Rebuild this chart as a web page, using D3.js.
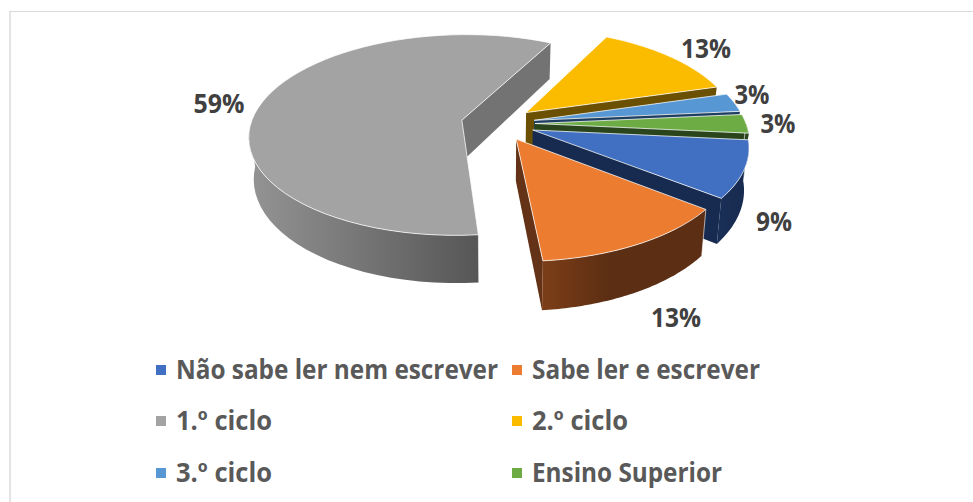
<!DOCTYPE html>
<html><head><meta charset="utf-8">
<script src="https://cdn.jsdelivr.net/npm/d3@7"></script>
<style>html,body{margin:0;padding:0;background:#fff}svg{display:block}</style></head>
<body><div id="c"></div>
<script>
const categories = ["Não sabe ler nem escrever","Sabe ler e escrever","1.º ciclo","2.º ciclo","3.º ciclo","Ensino Superior"];
const values = [9,13,59,13,3,3];
const percentLabels = ["9%","13%","59%","13%","3%","3%"];
const topColors = ["#4170c2","#eb7c30","#a3a3a3","#fbbc00","#5797d4","#6dab45"];
const wallColors = ["#172b50","#643216","#737373","#6a5000","#1e3f62","#2a451c"];
const rimStops = [["#1a2f56","#172a4e"],["#7c3e18","#5c2e13"],["#949494","#565656"],["#6a5000","#6a5000"],["#1e3f62","#1e3f62"],["#2a451c","#2a451c"]];
const labelBoxes = [[774,222,36],[676,318,50],[219,104,51],[706,49,50],[752,95,35],[778,124,35]];
const legendRows = [370,421,473], legendCols = [156,512];
const legendWidths = [322,228,96,96,96,190];

const W=973,H=502;
const svg=d3.select("#c").append("svg").attr("width",W).attr("height",H);
svg.append("rect").attr("x",9).attr("y",11).attr("width",2).attr("height",H-11).attr("fill","#e4e4e4");
svg.append("rect").attr("x",9).attr("y",11).attr("width",W-9).attr("height",1).attr("fill","#d9d9d9");

const cx=498,cy=123.5,R=211,k=0.47,p=0.0007,E=37,depth=41,vx=500,shrink=0.98;
const rad=d=>d*Math.PI/180;
const pie=d3.pie().sort(null).value(d=>d).startAngle(rad(95.5)).endAngle(rad(455.5));
const arcs=pie(values);
function proj(wx,wy,z){
  const w=1-p*wy;
  let X=cx+wx/w, Y=cy+k*wy/w;
  if(z){X=vx+(X-vx)*shrink; Y+=depth/w;}
  return [X,Y];
}
function geom(a){
  const m=(a.startAngle+a.endAngle)/2;
  const ax=E*Math.sin(m), ay=-E*Math.cos(m);
  const pt=(t,r,z)=>proj(ax+r*Math.sin(t),ay-r*Math.cos(t),z);
  return {m,pt};
}
const line=d3.line();
const defs=svg.append("defs");
const order=[2,3,4,5,0,1];
const gChart=svg.append("g");
order.forEach(i=>{
  const a=arcs[i],g=geom(a),g0=gChart.append("g");
  const apexT=g.pt(0,0,0),apexB=g.pt(0,0,1);
  const t0=a.startAngle,t1=a.endAngle;
  const ts=d3.range(0,61).map(j=>t0+(t1-t0)*j/60);
  const walls=[[apexT,g.pt(t0,R,0),g.pt(t0,R,1),apexB],[apexT,g.pt(t1,R,0),g.pt(t1,R,1),apexB]];
  walls.forEach((P,idx)=>{
    const th=idx==0?t0:t1;
    const normalY=idx==0?-Math.sin(th):Math.sin(th);
    if(normalY>0) g0.append("path").attr("d",line(P)+"Z").attr("fill",wallColors[i]);
  });
  const vis=ts.filter(t=>{const d=((t*180/Math.PI)%360+360)%360;return d>=90&&d<=270;});
  if(vis.length>1){
    const up=vis.map(t=>g.pt(t,R,0)),dn=vis.map(t=>g.pt(t,R,1)).reverse();
    const ex=d3.extent(up,d=>d[0]);
    const id="rim"+i;
    const lg=defs.append("linearGradient").attr("id",id).attr("gradientUnits","userSpaceOnUse")
      .attr("x1",ex[0]).attr("x2",ex[1]).attr("y1",0).attr("y2",0);
    lg.append("stop").attr("offset",0).attr("stop-color",rimStops[i][0]);
    lg.append("stop").attr("offset",i==1?0.4:1).attr("stop-color",rimStops[i][1]);
    g0.append("path").attr("d",line(up.concat(dn))+"Z").attr("fill",`url(#${id})`);
    const e=up[0],eb=dn[dn.length-1];
    g0.append("path").attr("d",line([e,eb])).attr("stroke","#fff").attr("stroke-opacity",0.6).attr("fill","none");
  }
  const top=[apexT].concat(ts.map(t=>g.pt(t,R,0)));
  g0.append("path").attr("d",line(top)+"Z").attr("fill",topColors[i]).attr("stroke","#fff").attr("stroke-opacity",0.75).attr("stroke-width",1).attr("stroke-linejoin","round");
});
const font='"Open Sans","Noto Sans",sans-serif';
percentLabels.forEach((t,i)=>{
  const b=labelBoxes[i];
  svg.append("text").text(t).attr("x",b[0]).attr("y",b[1]+9).attr("text-anchor","middle")
    .attr("font-family",font).attr("font-weight",700).attr("font-size",26).attr("fill","#404040")
    .attr("textLength",b[2]).attr("lengthAdjust","spacingAndGlyphs");
});
categories.forEach((c,i)=>{
  const col=legendCols[i%2],row=legendRows[Math.floor(i/2)];
  svg.append("rect").attr("x",col).attr("y",row-5).attr("width",10).attr("height",10).attr("fill",topColors[i]);
  svg.append("text").text(c).attr("x",col+20).attr("y",row+9).attr("font-family",font).attr("font-weight",700)
    .attr("font-size",26).attr("fill","#595959").attr("textLength",legendWidths[i]).attr("lengthAdjust","spacingAndGlyphs");
});
</script></body></html>
